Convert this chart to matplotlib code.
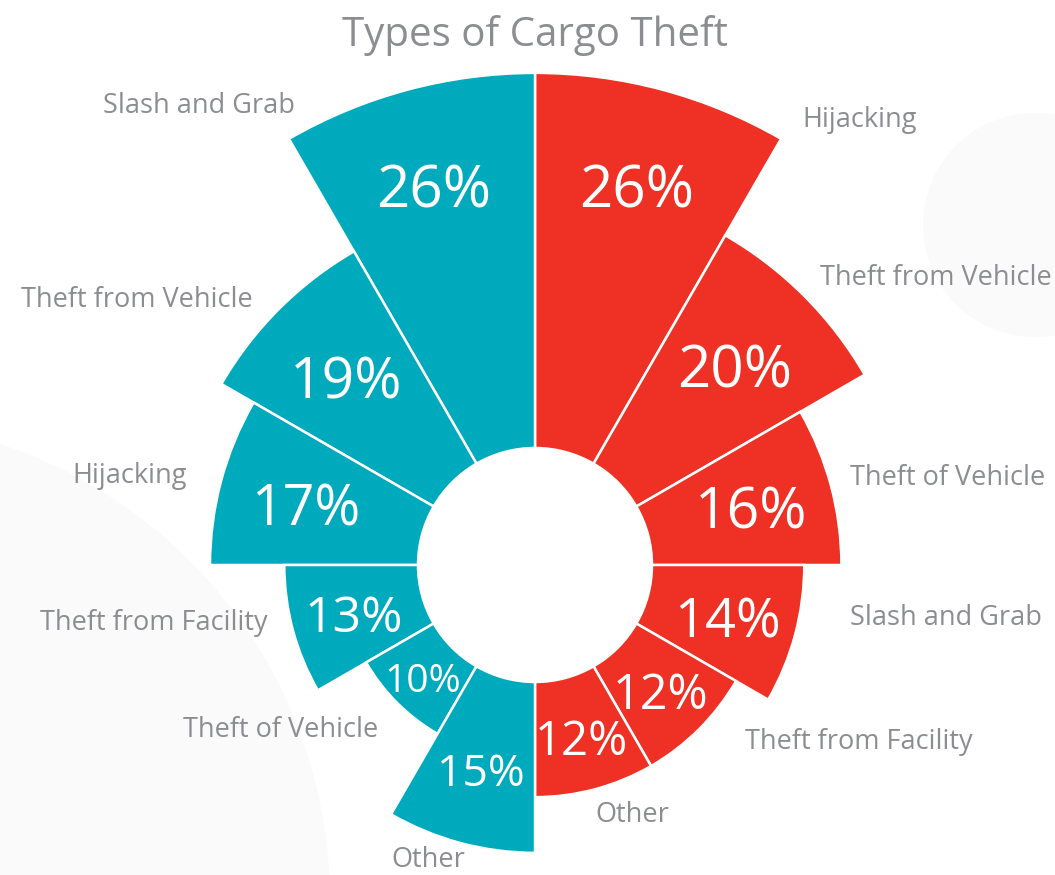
import numpy as np
import matplotlib
matplotlib.use("Agg")
import matplotlib.pyplot as plt
from matplotlib.patches import Circle

plt.rcParams['font.family'] = ['Open Sans', 'DejaVu Sans']

right_names = ['Hijacking', 'Theft from Vehicle', 'Theft of Vehicle',
               'Slash and Grab', 'Theft from Facility', 'Other']
right_vals = [26, 20, 16, 14, 12, 12]
left_names = ['Slash and Grab', 'Theft from Vehicle', 'Hijacking',
              'Theft from Facility', 'Theft of Vehicle', 'Other']
left_vals = [26, 19, 17, 13, 10, 15]

teal = '#00aabd'
red = '#ee3124'
grey = '#8b8d91'

W, H = 1055, 875
fig = plt.figure(figsize=(W / 100, H / 100), dpi=100)
fig.patch.set_facecolor('white')

# faint watermark shapes in the background
for cx, cy, rr in [(1035, 225, 112), (-150, 900, 480)]:
    fig.patches.append(Circle((cx, H - cy), rr, transform=None,
                              facecolor='#fafafa', edgecolor='none', zorder=-10))

# polar axes placed so that the centre sits at (535, 565) px
px_per_unit = 18.57
rmax = 27
R = rmax * px_per_unit
cx, cy = 535, H - 565
ax = fig.add_axes([(cx - R) / W, (cy - R) / H, 2 * R / W, 2 * R / H],
                  projection='polar')
ax.set_theta_zero_location('N')
ax.set_theta_direction(-1)
ax.set_ylim(0, rmax)
ax.axis('off')
ax.patch.set_alpha(0)

hole = 6.3
step = np.deg2rad(30)
right_theta = step * (np.arange(6) + 0.5)
left_theta = -right_theta

pct_sizes_right = [42, 42, 41, 39, 35, 34]
pct_sizes_left = [42, 41, 40, 36, 28, 32]

for thetas, vals, col, sizes in [(right_theta, right_vals, red, pct_sizes_right),
                                  (left_theta, left_vals, teal, pct_sizes_left)]:
    outer = np.array(vals) + 0.5
    ax.bar(thetas, outer - hole, width=step, bottom=hole, color=col,
           edgecolor='white', linewidth=1.8, align='center', clip_on=False)
    for t, v, fs in zip(thetas, vals, sizes):
        r_txt = 6 + 0.05 * v + 0.0205 * v ** 2
        ax.text(t, r_txt, f'{v}%', color='white', fontsize=fs,
                ha='center', va='center_baseline')

# category labels (pixel layout)
right_pos = [(802, 120, 'left'), (820, 278, 'left'), (850, 478, 'left'),
             (850, 618, 'left'), (745, 742, 'left'), (632, 815, 'center')]
left_pos = [(295, 106, 'right'), (253, 300, 'right'), (187, 476, 'right'),
            (268, 623, 'right'), (378, 730, 'right'), (428, 860, 'center')]
for names, pos in [(right_names, right_pos), (left_names, left_pos)]:
    for name, (x, y, ha) in zip(names, pos):
        fig.text(x / W, 1 - y / H, name, color=grey, fontsize=19.5,
                 ha=ha, va='center')

fig.text(535 / W, 1 - 35 / H, 'Types of Cargo Theft', color=grey,
         fontsize=29, ha='center', va='center')

fig.savefig('out.png', dpi=100)
